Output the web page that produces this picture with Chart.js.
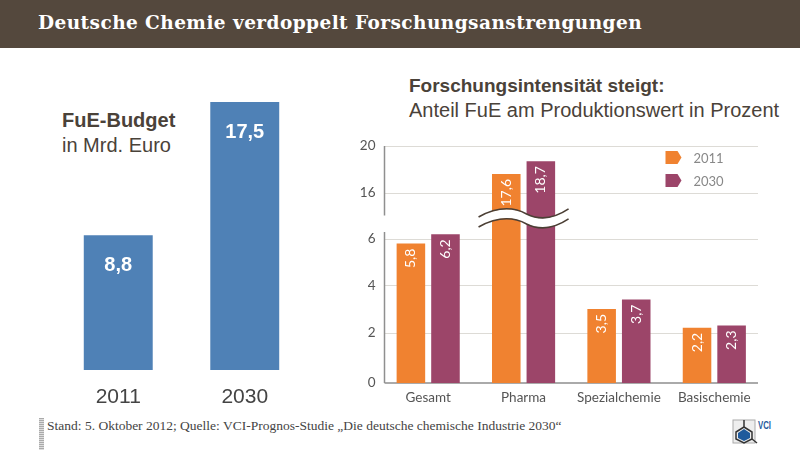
<!DOCTYPE html>
<html lang="de">
<head>
<meta charset="utf-8">
<script src="https://cdn.jsdelivr.net/npm/chart.js@4/dist/chart.umd.js"></script>
<style>
  html, body { margin: 0; padding: 0; background: #fff; }
  #page { position: relative; width: 800px; height: 450px; overflow: hidden; font-family: "Liberation Sans", sans-serif; color: #4a4239; }
  #page > * { position: absolute; }
  #band { left: 0; top: 0; width: 800px; height: 48px; background: #54483d; }
  #title { left: 38px; top: 12px; color: #fff; font: bold 18.5px "DejaVu Serif", serif; white-space: nowrap; letter-spacing: 0.44px; }
  .head { white-space: nowrap; font-size: 20px; line-height: 25px; }
  #budgetTitle { left: 62px; top: 108px; }
  #shareTitle { left: 409px; top: 73px; }
  #shareTitle b { font-size: 19px; }
  #source { left: 47px; top: 418px; font: 13.5px "Liberation Serif", serif; color: #444; white-space: nowrap; }
  #hatch { left: 39px; top: 418px; width: 5px; height: 32px; background: repeating-linear-gradient(#aaa 0 1px, #ddd 1px 2px); }
  #logo { left: 732px; top: 418px; }
  #budgetWrap { left: 55px; top: 92px; width: 253px; height: 318px; }
  #shareWrap { left: 350px; top: 133px; width: 412px; height: 280px; }
</style>
</head>
<body>
<div id="page">
  <div id="band"></div>
  <div id="title">Deutsche Chemie verdoppelt Forschungsanstrengungen</div>
  <div id="budgetTitle" class="head"><b>FuE-Budget</b><br>in Mrd. Euro</div>
  <div id="shareTitle" class="head"><b>Forschungsintensität steigt:</b><br>Anteil FuE am Produktionswert in Prozent</div>
  <div id="budgetWrap"><canvas id="budgetChart"></canvas></div>
  <div id="shareWrap"><canvas id="shareChart"></canvas></div>
  <div id="hatch"></div>
  <div id="source">Stand: 5. Oktober 2012; Quelle: VCI-Prognos-Studie „Die deutsche chemische Industrie 2030“</div>
  <svg id="logo" width="42" height="28" viewBox="0 0 42 28">
    <rect x="1" y="2" width="22" height="23" fill="#eee" stroke="#aaa"/>
    <path d="M12 2V9M12 9L4 14V21L12 25L20 21V14Z" fill="none" stroke="#333" stroke-width="1.5"/>
    <path d="M20 21L25 25" stroke="#333" stroke-width="1.5"/>
    <path d="M6 15L12 11L18 15V20L12 23L6 20Z" fill="#1f5a9c"/>
    <text x="26" y="11" font-family="Liberation Sans" font-weight="bold" font-size="10.5" fill="#1f5a9c" textLength="13" lengthAdjust="spacingAndGlyphs">VCI</text>
  </svg>
</div>
<script>
// FuE-Budget
const budgetYears = ['2011', '2030'];
const budgetValues = [8.8, 17.5];
const budgetLabels = ['8,8', '17,5'];

// Forschungsintensitaet. Bar heights are read off the picture (the original is
// not quite to scale for Spezialchemie), the printed numbers are kept apart.
const sectors = ['Gesamt', 'Pharma', 'Spezialchemie', 'Basischemie'];
const heights2011 = [5.8, 17.6, 3.0, 2.2];
const heights2030 = [6.2, 18.7, 3.4, 2.3];
const printed2011 = ['5,8', '17,6', '3,5', '2,2'];
const printed2030 = ['6,2', '18,7', '3,7', '2,3'];
const seriesNames = ['2011', '2030'];

// broken axis: value -> share of the axis height
const axisTicks = [0, 2, 4, 6, 16, 20];
const breakStops = [0, 2, 4, 6, 7, 16, 20];
const breakShares = [0, 0.213, 0.412, 0.608, 0.706, 0.804, 1];

const colors = {
  orange: '#f08230',
  purple: '#9c4569',
  blue: '#4f81b6',
  grid: '#dddbd6',
  axis: '#8f8f8f',
  tick: '#555'
};

class BrokenScale extends Chart.LinearScale {
  getPixelForValue(value) {
    let i = 1;
    while (i < breakStops.length - 1 && value > breakStops[i]) i++;
    const part = (value - breakStops[i - 1]) / (breakStops[i] - breakStops[i - 1]);
    const share = breakShares[i - 1] + part * (breakShares[i] - breakShares[i - 1]);
    return this.bottom - share * (this.bottom - this.top);
  }
}
BrokenScale.id = 'broken';
BrokenScale.defaults = Chart.LinearScale.defaults;
Chart.register(BrokenScale);

// Value labels inside the bars
const barText = {
  id: 'barText',
  afterDatasetsDraw(chart, args, opts) {
    const ctx = chart.ctx;
    chart.data.datasets.forEach((ds, d) => {
      chart.getDatasetMeta(d).data.forEach((bar, i) => {
        ctx.save();
        ctx.fillStyle = '#fff';
        ctx.font = opts.font;
        if (opts.rotated) {
          ctx.translate(bar.x, bar.y + 5);
          ctx.rotate(-Math.PI / 2);
          ctx.textAlign = 'right';
          ctx.textBaseline = 'middle';
          ctx.fillText(ds.printed[i], 0, 0);
        } else {
          ctx.textAlign = 'center';
          ctx.textBaseline = 'middle';
          ctx.fillText(ds.printed[i], bar.x, bar.y + 30);
        }
        ctx.restore();
      });
    });
  }
};

// Grid lines and the interrupted y axis
const brokenGrid = {
  id: 'brokenGrid',
  beforeDatasetsDraw(chart) {
    const ctx = chart.ctx;
    const y = chart.scales.y;
    const left = chart.chartArea.left + 4;
    const right = chart.chartArea.right - 4;
    ctx.save();
    ctx.strokeStyle = colors.grid;
    ctx.lineWidth = 1;
    axisTicks.slice(1).forEach(v => {
      const py = Math.round(y.getPixelForValue(v)) + 0.5;
      ctx.beginPath();
      ctx.moveTo(left, py);
      ctx.lineTo(right, py);
      ctx.stroke();
    });
    ctx.strokeStyle = colors.axis;
    ctx.lineWidth = 1.5;
    ctx.beginPath();
    ctx.moveTo(left, y.getPixelForValue(20));
    ctx.lineTo(left, y.getPixelForValue(7.1));
    ctx.moveTo(left, y.getPixelForValue(6.3));
    ctx.lineTo(left, y.getPixelForValue(0));
    ctx.moveTo(left, y.getPixelForValue(0));
    ctx.lineTo(right, y.getPixelForValue(0));
    ctx.stroke();
    ctx.restore();
  },
  afterDatasetsDraw(chart) {
    // white wave across the Pharma bars
    const ctx = chart.ctx;
    const x = chart.scales.x.getPixelForValue(1);
    const mid = chart.scales.y.getPixelForValue(7.7);
    const wave = (off) => {
      ctx.moveTo(x - 45, mid + off + 3);
      ctx.bezierCurveTo(x - 25, mid + off - 8, x - 10, mid + off - 7, x + 3, mid + off);
      ctx.bezierCurveTo(x + 15, mid + off + 6, x + 30, mid + off + 5, x + 45, mid + off - 5);
    };
    ctx.save();
    ctx.beginPath();
    wave(5);
    ctx.strokeStyle = '#fff';
    ctx.lineWidth = 9;
    ctx.stroke();
    ctx.strokeStyle = '#4b3f35';
    ctx.lineWidth = 1.6;
    ctx.beginPath();
    wave(0);
    ctx.stroke();
    ctx.beginPath();
    wave(10);
    ctx.stroke();
    ctx.restore();
  }
};

// Legend with the little arrow shaped markers
const arrowLegend = {
  id: 'arrowLegend',
  afterDraw(chart) {
    const ctx = chart.ctx;
    const left = chart.chartArea.left + 285;
    chart.data.datasets.forEach((ds, d) => {
      const top = chart.chartArea.top + 5 + d * 23;
      ctx.save();
      ctx.fillStyle = ds.backgroundColor;
      ctx.beginPath();
      ctx.moveTo(left, top);
      ctx.lineTo(left + 12, top);
      ctx.lineTo(left + 16, top + 6.5);
      ctx.lineTo(left + 12, top + 13);
      ctx.lineTo(left, top + 13);
      ctx.closePath();
      ctx.fill();
      ctx.fillStyle = '#888';
      ctx.font = '13px Lato';
      ctx.textBaseline = 'middle';
      ctx.fillText(ds.label, left + 28, top + 8);
      ctx.restore();
    });
  }
};

const commonOptions = {
  responsive: true,
  maintainAspectRatio: false,
  animation: false,
  plugins: { legend: { display: false }, tooltip: { enabled: false } }
};

new Chart(document.getElementById('budgetChart'), {
  type: 'bar',
  data: {
    labels: budgetYears,
    datasets: [{
      data: budgetValues,
      printed: budgetLabels,
      backgroundColor: colors.blue,
      categoryPercentage: 1,
      barPercentage: 0.545
    }]
  },
  options: {
    ...commonOptions,
    layout: { padding: { top: 10 } },
    plugins: {
      ...commonOptions.plugins,
      barText: { font: 'bold 20px "Liberation Sans"', rotated: false }
    },
    scales: {
      x: {
        grid: { display: false, drawTicks: false },
        border: { display: false },
        afterFit(scale) { scale.height = 40; },
        ticks: { color: '#444', padding: 15, font: { family: 'Liberation Sans', size: 21 } }
      },
      y: { display: false, min: 0, max: 17.5 }
    }
  },
  plugins: [barText]
});

new Chart(document.getElementById('shareChart'), {
  type: 'bar',
  data: {
    labels: sectors,
    datasets: [
      { label: seriesNames[0], data: heights2011, printed: printed2011, backgroundColor: colors.orange, categoryPercentage: 0.725, barPercentage: 0.826 },
      { label: seriesNames[1], data: heights2030, printed: printed2030, backgroundColor: colors.purple, categoryPercentage: 0.725, barPercentage: 0.826 }
    ]
  },
  options: {
    ...commonOptions,
    plugins: {
      ...commonOptions.plugins,
      barText: { font: '14px Lato', rotated: true }
    },
    scales: {
      x: {
        grid: { display: false, drawTicks: false },
        border: { display: false },
        afterFit(scale) { scale.height = 30; },
        ticks: { color: colors.tick, padding: 7, font: { family: 'Lato', size: 13.5 } }
      },
      y: {
        type: 'broken',
        min: 0,
        max: 20,
        grid: { display: false, drawTicks: false },
        border: { display: false },
        afterFit(scale) { scale.width = 30.5; },
        afterBuildTicks(scale) { scale.ticks = axisTicks.map(value => ({ value })); },
        ticks: { color: colors.tick, padding: 5, font: { family: 'Lato', size: 13.5 } }
      }
    }
  },
  plugins: [brokenGrid, barText, arrowLegend]
});
</script>
</body>
</html>
